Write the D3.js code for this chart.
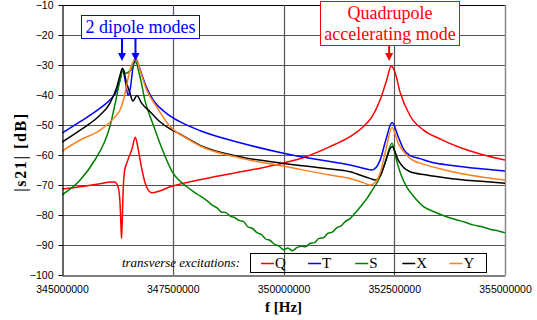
<!DOCTYPE html>
<html>
<head>
<meta charset="utf-8">
<script src="https://cdn.jsdelivr.net/npm/d3@7"></script>
<style>
  html, body { margin: 0; padding: 0; background: #fff; }
  svg { display: block; }
  .sans { font-family: "Liberation Sans", Arial, sans-serif; }
  .serif { font-family: "Liberation Serif", "Times New Roman", "DejaVu Serif", serif; }
</style>
</head>
<body>
<svg id="chart" width="537" height="320"></svg>
<script>
// ---- data (frequency in MHz, |s21| in dB) ----
const xTicks = [345000000, 347500000, 350000000, 352500000, 355000000];
const yTicks = [-100, -90, -80, -70, -60, -50, -40, -30, -20, -10];
const legendNames = ["Q", "T", "S", "X", "Y"];
const seriesColors = ["#ff0000", "#0000ff", "#008000", "#000000", "#ff7f1e"];

const seriesQ = [[345.0,-71.3],[345.5,-70.4],[345.86,-69.6],[346.1,-69.0],[346.19,-69.0],[346.24,-69.7],[346.28,-71.5],[346.31,-76],[346.335,-85],[346.345,-87.8],[346.36,-82],[346.38,-72],[346.41,-65.5],[346.46,-62.8],[346.5,-61.1],[346.58,-58.0],[346.655,-54.1],[346.7,-56.5],[346.75,-60.5],[346.8,-64.5],[346.87,-69],[346.95,-71.8],[347.03,-72.6],[347.2,-72.0],[347.44,-70.6],[347.89,-68.9],[348.5,-67.1],[349.0,-65.7],[349.5,-64.3],[350.0,-62.7],[350.5,-60.6],[351.05,-57.2],[351.5,-53.9],[351.8,-50.6],[352.0,-47.2],[352.18,-41.7],[352.33,-35],[352.43,-30.3],[352.52,-32.5],[352.63,-39],[352.86,-47],[353.16,-51.7],[353.53,-54.6],[354.0,-57.6],[354.5,-59.9],[355.0,-61.7]];

const seriesT = [[345.0,-52.7],[345.41,-48.9],[345.86,-44.4],[346.08,-41.7],[346.24,-38.3],[346.31,-35],[346.366,-31.3],[346.43,-35.5],[346.49,-40],[346.54,-38],[346.6,-31],[346.67,-28.0],[346.74,-30.5],[346.82,-34],[346.91,-37.5],[347.06,-41.7],[347.36,-46.1],[347.66,-48.9],[348.12,-51.9],[349.02,-55.9],[350.0,-59.4],[351.05,-62.2],[351.5,-63.3],[351.85,-64.6],[351.99,-65],[352.1,-64],[352.18,-61.7],[352.31,-55],[352.45,-49.2],[352.59,-53.9],[352.72,-58.3],[352.86,-60.2],[353.08,-61.2],[353.4,-62.6],[353.76,-63.4],[354.4,-64.5],[355.0,-65.3]];

const seriesS = [[345.0,-73.3],[345.4,-68.5],[345.75,-61.5],[345.95,-56],[346.08,-50.6],[346.2,-42.8],[346.31,-35],[346.38,-31.7],[346.44,-32.8],[346.5,-32.4],[346.56,-31.5],[346.63,-29.5],[346.67,-28.9],[346.72,-31.5],[346.8,-36.5],[346.87,-41.7],[346.96,-46],[347.06,-50],[347.21,-56.1],[347.49,-65.6],[347.82,-70.6],[348.05,-73],[348.27,-75.2],[348.4,-76.8],[348.5,-77.6],[348.6,-79.0],[348.7,-79.2],[348.8,-80.4],[348.9,-80.9],[349.0,-81.8],[349.1,-82.2],[349.2,-84.0],[349.3,-84.5],[349.4,-85.9],[349.5,-86.5],[349.6,-88.0],[349.7,-88.5],[349.8,-89.8],[349.9,-90.4],[350.0,-91.6],[350.1,-91.0],[350.2,-91.9],[350.3,-90.9],[350.4,-90.4],[350.5,-90.6],[350.6,-89.4],[350.7,-89.2],[350.8,-87.8],[350.9,-87.6],[351.0,-86.1],[351.1,-85.7],[351.2,-84.3],[351.3,-83.6],[351.4,-82.1],[351.5,-81.2],[351.6,-79.6],[351.7,-77.9],[351.8,-76.1],[351.9,-74.1],[352.0,-71.8],[352.1,-69.5],[352.18,-67.2],[352.26,-64],[352.33,-60.6],[352.45,-56.1],[352.55,-61.7],[352.65,-66.5],[352.78,-70.6],[352.95,-74],[353.16,-77.2],[353.4,-78.9],[353.68,-80.6],[353.9,-81.6],[354.1,-82.4],[354.28,-83.3],[354.5,-84.0],[354.7,-84.9],[354.85,-85.3],[355.0,-85.9]];

const seriesX = [[345.0,-55.7],[345.41,-51.7],[345.86,-46.7],[346.08,-42.8],[346.24,-37.2],[346.3,-34],[346.366,-31.1],[346.46,-36.1],[346.535,-39.4],[346.6,-42],[346.69,-40.2],[346.8,-42.8],[346.99,-45.6],[347.21,-48.9],[347.44,-51.3],[347.66,-53],[348.12,-56.8],[349.02,-60.6],[350.0,-62.8],[351.0,-64.6],[351.5,-65.6],[351.95,-67.8],[352.07,-68.3],[352.2,-66.5],[352.29,-62.8],[352.45,-57.2],[352.59,-61.7],[352.7,-64],[352.86,-65.6],[353.2,-66.6],[353.76,-67.8],[354.4,-68.7],[355.0,-69.4]];

const seriesY = [[345.0,-58.7],[345.41,-55],[345.86,-51.7],[346.2,-47.2],[346.31,-45],[346.4,-41],[346.47,-36],[346.535,-31.7],[346.6,-29],[346.67,-27.8],[346.76,-31.7],[346.91,-38.3],[347.14,-44],[347.44,-50.5],[347.8,-54.3],[348.12,-57],[349.02,-61],[350.0,-63.7],[351.05,-66.7],[351.5,-67.8],[351.8,-69.2],[351.95,-70],[352.08,-69],[352.18,-66.1],[352.31,-58.3],[352.45,-50.8],[352.59,-56.1],[352.72,-59],[352.86,-61.1],[353.2,-63.2],[353.53,-64.6],[354.0,-66.2],[354.5,-67.4],[355.0,-68.3]];

const allSeries = [seriesQ, seriesT, seriesS, seriesX, seriesY];

// annotation texts
const dipoleLabel = "2 dipole modes";
const dipoleArrowsMHz = [346.366, 346.67];
const quadLabel = ["Quadrupole", "accelerating mode"];
const quadArrowMHz = 352.43;

// ---- layout ----
const svg = d3.select("#chart");
const L = 62, R = 505, T = 5, B = 275;

const x = d3.scaleLinear().domain([345e6, 355e6]).range([L, R]);
const y = d3.scaleLinear().domain([-100, -10]).range([B, T]);

// gridlines
const grid = svg.append("g");
grid.selectAll("line.h").data(yTicks.filter(v => v > -100)).enter().append("line")
  .attr("x1", L).attr("x2", R)
  .attr("y1", d => Math.round(y(d)) + 0.5).attr("y2", d => Math.round(y(d)) + 0.5)
  .attr("stroke", d => d === -10 ? "#000" : "#555").attr("stroke-width", 1.2);
grid.selectAll("line.v").data(xTicks.slice(1, 4)).enter().append("line")
  .attr("x1", d => Math.round(x(d)) + 0.5).attr("x2", d => Math.round(x(d)) + 0.5)
  .attr("y1", T).attr("y2", B)
  .attr("stroke", "#555").attr("stroke-width", 1.2);
// right border
svg.append("line").attr("x1", R + 0.5).attr("x2", R + 0.5).attr("y1", T).attr("y2", B)
  .attr("stroke", "#888").attr("stroke-width", 1.5);

// curves
svg.append("clipPath").attr("id", "clip").append("rect")
  .attr("x", L).attr("y", T).attr("width", R - L).attr("height", B - T);
const line = d3.line().x(d => x(d[0] * 1e6)).y(d => y(d[1])).curve(d3.curveMonotoneX);
svg.append("g").attr("clip-path", "url(#clip)")
  .selectAll("path").data(allSeries).enter().append("path")
  .attr("d", line).attr("fill", "none")
  .attr("stroke", (d, i) => seriesColors[i]).attr("stroke-width", 1.5)
  .attr("stroke-linejoin", "round");

// axes
const yAxis = d3.axisLeft(y).tickValues(yTicks).tickSize(4).tickSizeOuter(0).tickPadding(5);
const gy = svg.append("g").attr("transform", `translate(${L + 0.5},0)`).call(yAxis);
gy.attr("font-family", null);
gy.select(".domain").attr("stroke", "#000").attr("stroke-width", 1.2);
gy.selectAll(".tick line").attr("stroke", "#000");
gy.selectAll("text").attr("class", "sans").style("font-size", "10.5px").attr("fill", "#000");

const xAxis = d3.axisBottom(x).tickValues(xTicks).tickSize(0).tickSizeOuter(0)
  .tickPadding(10).tickFormat(d3.format("d"));
const gx = svg.append("g").attr("transform", `translate(0,${B + 0.5})`).call(xAxis);
gx.attr("font-family", null);
gx.select(".domain").attr("stroke", "#000").attr("stroke-width", 1.2);
gx.selectAll("text").attr("class", "sans").style("font-size", "10.5px").attr("fill", "#000");

// axis titles
svg.append("text").attr("class", "serif").attr("x", (L + R) / 2).attr("y", 312).attr("text-anchor", "middle")
  .style("font-weight", "bold").style("font-size", "15px").text("f [Hz]");
svg.append("text").attr("class", "serif").attr("transform", "translate(26,152) rotate(-90)").attr("text-anchor", "middle")
  .style("font-weight", "bold").style("font-size", "16px").style("letter-spacing", "1.6px").text("|s21| [dB]");

// legend
const lg = svg.append("g");
lg.append("text").attr("class", "serif").attr("x", 240).attr("y", 267).attr("text-anchor", "end")
  .style("font-style", "italic").style("font-size", "13px")
  .text("transverse excitations:");
lg.append("rect").attr("x", 250.5).attr("y", 253.5).attr("width", 236).attr("height", 19)
  .attr("fill", "none").attr("stroke", "#000").attr("stroke-width", 1);
const items = lg.selectAll("g.item").data(legendNames).enter().append("g")
  .attr("transform", (d, i) => `translate(${261 + i * 47.1},263)`);
items.append("line").attr("x1", 0).attr("x2", 13).attr("y1", 0.5).attr("y2", 0.5)
  .attr("stroke", (d, i) => seriesColors[i]).attr("stroke-width", 1.5);
items.append("text").attr("class", "serif").attr("x", 14).attr("y", 5).style("font-size", "15px")
  .text(d => d);

// annotation helpers
function arrow(g, xPos, y0, y1, color) {
  g.append("line").attr("x1", xPos).attr("x2", xPos).attr("y1", y0).attr("y2", y1 - 6)
    .attr("stroke", color).attr("stroke-width", 2);
  g.append("path").attr("d", `M${xPos - 4},${y1 - 8} L${xPos + 4},${y1 - 8} L${xPos},${y1} Z`)
    .attr("fill", color);
}
const ann = svg.append("g");
// dipole
ann.append("rect").attr("x", 81.5).attr("y", 15.5).attr("width", 118).attr("height", 23)
  .attr("fill", "#fff").attr("stroke", "#0000ff").attr("stroke-width", 1);
ann.append("text").attr("class", "serif").attr("x", 140.5).attr("y", 33).attr("text-anchor", "middle")
  .style("font-size", "18px").attr("fill", "#0000ff").text(dipoleLabel);
dipoleArrowsMHz.forEach(f => arrow(ann, x(f * 1e6) - 0.5, 39, 61, "#0000ff"));
// quadrupole
ann.append("rect").attr("x", 320.5).attr("y", 1.5).attr("width", 139).attr("height", 44)
  .attr("fill", "#fff").attr("stroke", "#ff0000").attr("stroke-width", 1);
ann.append("text").attr("class", "serif").attr("x", 390).attr("y", 19).attr("text-anchor", "middle")
  .style("font-size", "18px").attr("fill", "#ff0000").text(quadLabel[0]);
ann.append("text").attr("class", "serif").attr("x", 390).attr("y", 40).attr("text-anchor", "middle")
  .style("font-size", "18px").attr("fill", "#ff0000").text(quadLabel[1]);
arrow(ann, x(quadArrowMHz * 1e6) - 2, 46, 61, "#ff0000");
</script>
</body>
</html>
